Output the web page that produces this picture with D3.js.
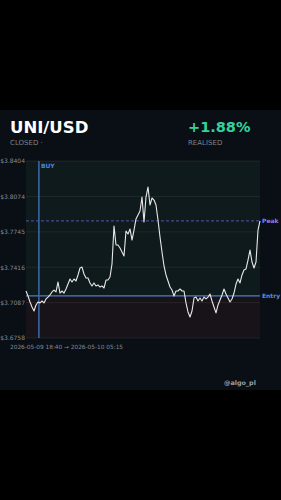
<!DOCTYPE html>
<html><head><meta charset="utf-8">
<script src="https://cdn.jsdelivr.net/npm/d3@7"></script>
<style>
html,body{margin:0;padding:0;background:#000;}
svg{display:block;font-family:"DejaVu Sans",sans-serif;}
</style></head>
<body><svg id="c" width="281" height="500"></svg>
<script>
const pair = "UNI/USD";
const status = "CLOSED";
const pnlLabel = "+1.88%";
const pnlCaption = "REALISED";
const startTime = "2026-05-09 18:40";
const endTime = "2026-05-10 05:15";
const buyTime = "2026-05-09 19:15";
const entryPrice = 3.7149;
const handle = "@algo_pl";
const yTicks = [3.6758, 3.7087, 3.7416, 3.7745, 3.8074, 3.8404];
const prices = [
3.7195, 3.7149, 3.7093, 3.7046, 3.7009, 3.7065, 3.7093, 3.7084, 3.7102, 3.7084,
3.7121, 3.7139, 3.7158, 3.7186, 3.7204, 3.7186, 3.7279, 3.7176, 3.7195, 3.7176,
3.7214, 3.7260, 3.7307, 3.7279, 3.7307, 3.7288, 3.7344, 3.7409, 3.7418, 3.7353,
3.7316, 3.7316, 3.7270, 3.7242, 3.7270, 3.7242, 3.7251, 3.7232, 3.7242, 3.7223,
3.7297, 3.7297, 3.7325, 3.7446, 3.7800, 3.7623, 3.7623, 3.7595, 3.7558, 3.7521,
3.7753, 3.7725, 3.7772, 3.7669, 3.7762, 3.7865, 3.7902, 3.7939, 3.8069, 3.7837,
3.8069, 3.8162, 3.7995, 3.8060, 3.8041, 3.7995, 3.7855, 3.7697, 3.7558, 3.7428,
3.7344, 3.7288, 3.7232, 3.7204, 3.7149, 3.7195, 3.7195, 3.7214, 3.7195, 3.7195,
3.7084, 3.7000, 3.6953, 3.7009, 3.7130, 3.7139, 3.7102, 3.7130, 3.7102, 3.7139,
3.7121, 3.7139, 3.7167, 3.7102, 3.7046, 3.6991, 3.7065, 3.7111, 3.7158, 3.7214,
3.7167, 3.7130, 3.7093, 3.7121, 3.7176, 3.7260, 3.7307, 3.7270, 3.7344, 3.7390,
3.7400, 3.7483, 3.7576, 3.7465, 3.7409, 3.7465, 3.7762, 3.7847
];

const parse = d3.timeParse("%Y-%m-%d %H:%M");
const t0 = parse(startTime), t1 = parse(endTime);
const n = prices.length;
const data = prices.map((p, i) => ({t: new Date(+t0 + (t1 - t0) * i / (n - 1)), p}));
const peakPrice = prices[n - 1];

const svg = d3.select("#c");
const W = 281;
// panel
svg.append("rect").attr("x", 0).attr("y", 110).attr("width", W).attr("height", 280).attr("fill", "#0a0e15");

const L = 26, R = 260, T = 161, B = 338;
const x = d3.scaleTime().domain([t0, t1]).range([L, R]);
const y = d3.scaleLinear().domain([yTicks[0], yTicks[yTicks.length - 1]]).range([B, T]);

// regions
svg.append("rect").attr("x", L).attr("y", T).attr("width", R - L).attr("height", y(entryPrice) - T).attr("fill", "#0e1a1c");
svg.append("rect").attr("x", L).attr("y", y(entryPrice)).attr("width", R - L).attr("height", B - y(entryPrice)).attr("fill", "#181219");

// grid
svg.append("g").selectAll("line").data(yTicks).join("line")
  .attr("x1", L).attr("x2", R).attr("y1", d => y(d)).attr("y2", d => y(d))
  .attr("stroke", "#ffffff").attr("stroke-opacity", 0.07).attr("stroke-width", 1);

// y axis labels
const yAxis = d3.axisLeft(y).tickValues(yTicks).tickFormat(d => "$" + d.toFixed(4)).tickSize(0).tickPadding(1);
const ga = svg.append("g").attr("transform", `translate(${L},0)`).call(yAxis);
ga.select(".domain").remove();
ga.selectAll("text").attr("fill", "#858b94").attr("font-size", 6).attr("font-family", "DejaVu Sans");

// peak dashed line
svg.append("line").attr("x1", L).attr("x2", R).attr("y1", y(peakPrice)).attr("y2", y(peakPrice))
  .attr("stroke", "#6a62d8").attr("stroke-width", 0.8).attr("stroke-dasharray", "3,2");
// entry line
svg.append("line").attr("x1", L).attr("x2", R).attr("y1", y(entryPrice)).attr("y2", y(entryPrice))
  .attr("stroke", "#4b7fc6").attr("stroke-width", 1.2);
// buy line
svg.append("line").attr("x1", x(parse(buyTime))).attr("x2", x(parse(buyTime))).attr("y1", T).attr("y2", B)
  .attr("stroke", "#3d6aab").attr("stroke-width", 1.5);

// price line
svg.append("path").datum(data)
  .attr("d", d3.line().x(d => x(d.t)).y(d => y(d.p)))
  .attr("fill", "none").attr("stroke", "#e8e8e8").attr("stroke-width", 1.1).attr("stroke-linejoin", "round");

// labels
svg.append("text").attr("x", x(parse(buyTime)) + 2).attr("y", 168).text("BUY")
  .attr("fill", "#4f86d4").attr("font-size", 6).attr("font-weight", "bold");
svg.append("text").attr("x", R + 2).attr("y", y(peakPrice) + 2).text("Peak")
  .attr("fill", "#8a80ee").attr("font-size", 6).attr("font-weight", "bold");
svg.append("text").attr("x", R + 2).attr("y", y(entryPrice) + 2).text("Entry")
  .attr("fill", "#5a8fd8").attr("font-size", 6).attr("font-weight", "bold");

svg.append("text").attr("x", 10).attr("y", 349).text(startTime + " \u2192 " + endTime)
  .attr("fill", "#858b94").attr("font-size", 5.8);

// header
svg.append("text").attr("x", 10).attr("y", 133).text(pair)
  .attr("fill", "#ffffff").attr("font-size", 16.5).attr("font-weight", "bold");
svg.append("text").attr("x", 10).attr("y", 145).text(status + " \u00b7")
  .attr("fill", "#7c828c").attr("font-size", 7);
svg.append("text").attr("x", 188).attr("y", 132).text(pnlLabel)
  .attr("fill", "#34d399").attr("font-size", 14.5).attr("font-weight", "bold");
svg.append("text").attr("x", 188).attr("y", 145).text(pnlCaption)
  .attr("fill", "#7c828c").attr("font-size", 7);

svg.append("text").attr("x", 224).attr("y", 385).text(handle)
  .attr("fill", "#9aa0a8").attr("font-size", 6.4).attr("font-weight", "bold");
</script></body></html>
